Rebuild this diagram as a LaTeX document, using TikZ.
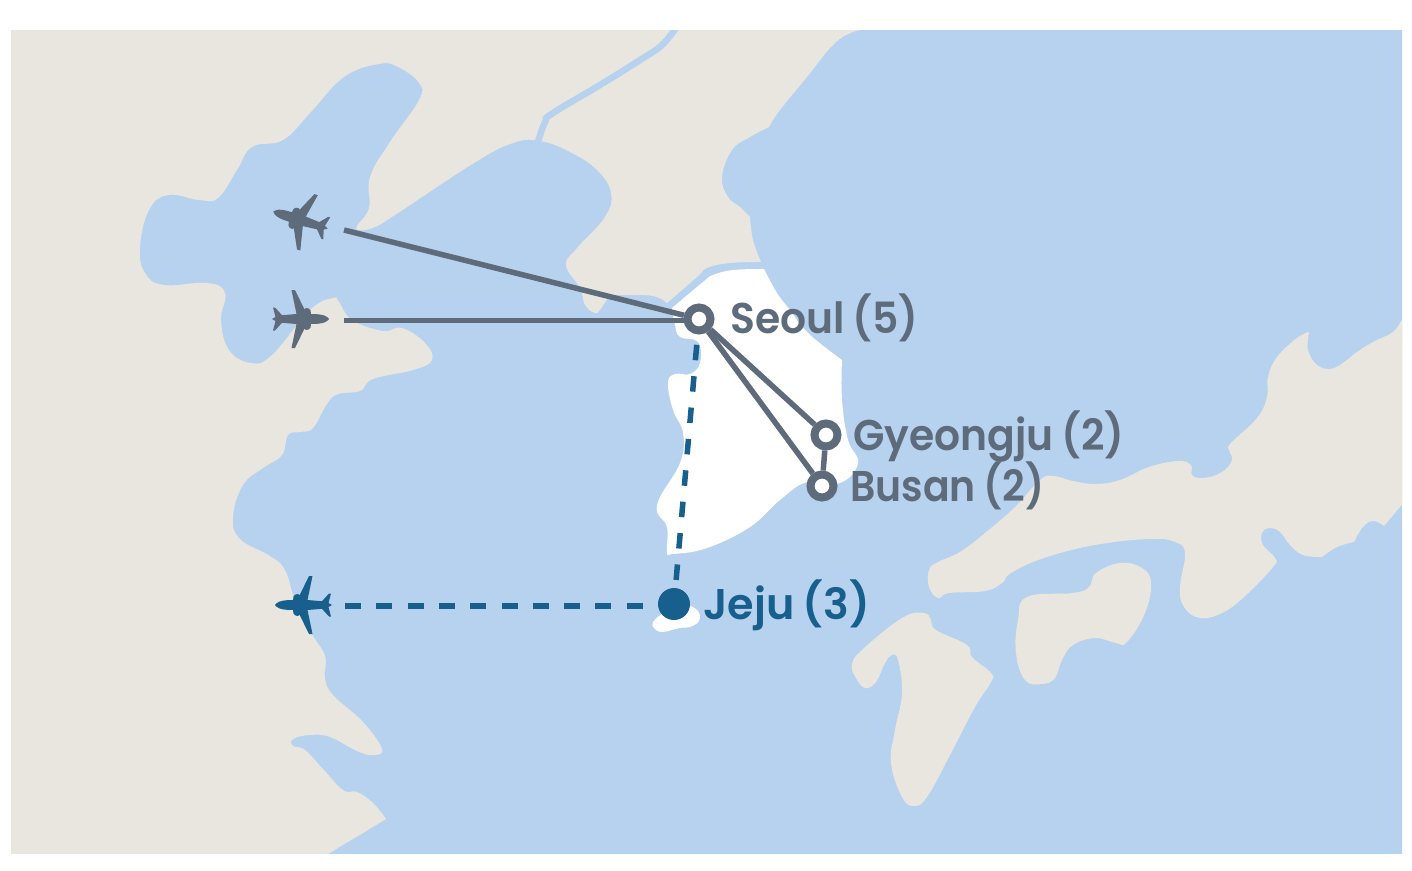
\documentclass[tikz,border=0pt]{standalone}
\usepackage{fontspec}
\setmainfont{Poppins SemiBold}[FakeStretch=0.95,WordSpace=0.8]
\definecolor{sea}{HTML}{B7D2EF}
\definecolor{land}{HTML}{E8E6DF}
\definecolor{slate}{HTML}{5D6B7B}
\definecolor{deepblue}{HTML}{175F8C}
\tikzset{
  x=1pt,y=-1pt,
  landfill/.style={fill=land,draw=none},
  soft/.style={smooth,tension=0.7},
  stop/.style={circle,draw=slate,line width=8pt,fill=white,minimum size=23pt,inner sep=0pt},
  jejustop/.style={circle,fill=deepblue,minimum size=32pt,inner sep=0pt},
  route/.style={draw=slate,line width=5.5pt},
  dashroute/.style={draw=deepblue,line width=5.5pt,dash pattern=on 16pt off 15.3pt},
  cityname/.style={anchor=base west,inner sep=0pt,font=\fontsize{43}{43}\selectfont,text=slate},
  planepic/.pic={
    \fill[pic actions] (28,0) .. controls (26,-3) and (22,-4.5) .. (16,-4.8) -- (10,-5)
      -- (9.5,-8.5) .. controls (8,-11.5) and (3.5,-11.5) .. (3.5,-9.5) -- (4,-8.5)
      -- (-6,-29) -- (-9.5,-29) -- (-4.5,-5) -- (-19,-3.8)
      -- (-26,-11.5) -- (-28,-11.5) -- (-25.5,-2) -- (-29,0)
      -- (-25.5,2) -- (-28,11.5) -- (-26,11.5) -- (-19,3.8) -- (-4.5,5)
      -- (-9.5,29) -- (-6,29) -- (4,8.5) -- (3.5,9.5) .. controls (3.5,11.5) and (8,11.5) .. (9.5,8.5)
      -- (10,5) -- (16,4.8) .. controls (22,4.5) and (26,3) .. (28,0) -- cycle;
  }
}
\begin{document}
\begin{tikzpicture}
\useasboundingbox (0,0) rectangle (1412,870);
\begin{scope}
\clip (11,30) rectangle (1402,853);
\fill[sea] (0,0) rectangle (1412,870);
% mainland
\path[landfill] (-10,20) -- (890,20) -- plot[soft] coordinates {(890,26)(873,29)(853,32)(833,45)(807,77)(780,110)(769,127)}
 -- plot[soft] coordinates {(769,127)(750,137)(732,150)(722,177)(728,197)(740,207)(750,217)}
 -- plot[soft] coordinates {(750,217)(753,240)(761,262)}
 -- plot[soft] coordinates {(761,262)(730,263)(707,268)(697,277)(667,303)}
 -- plot[soft] coordinates {(667,303)(653,296)(625,295)(610,297)(600,310)(595,313)(585,305)(580,288)(566,265)(578,247)(605,217)(611,193)(597,170)(570,152)(540,141)(513,143)(474,163)(398,213)(375,227)(360,230)(357,226)(369,208)(370,177)(390,142)(419,100)(419,83)(398,67)(379,64)(344,77)(310,113)(283,140)(252,147)(237,170)(218,198)(199,200)(168,195)(149,210)(140,247)(145,273)(164,285)(207,283)(225,293)(221,320)(229,350)(251,363)(272,355)(310,310)(333,298)(339,302)(352,320)(383,331)(402,328)(425,343)(432,360)(413,370)(373,379)(360,391)(338,394)(327,404)(313,428)(300,432)(288,435)(282,455)(263,468)(243,485)(233,517)(240,539)(270,556)(285,570)(295,600)(312,634)(325,656)(325,678)(333,695)(363,722)(382,749)(373,755)(357,751)(330,737)(310,735)(293,739)(293,746)(305,750)(323,769)(343,790)(357,792)(373,803)(386,819)}
 -- plot[soft] coordinates {(386,819)(363,833)(330,853)(320,862)}
 -- (-10,870) -- cycle;
% river
\draw[sea,line width=6.5pt] plot[soft] coordinates {(537,145)(545,122)(553,113)(600,85)(640,60)(662,45)(678,25)};
% Japan
\path[landfill] (1420,310) -- plot[soft] coordinates {(1412,310)(1402,320)(1393,332)(1373,342)(1357,352)(1340,365)(1327,369)(1315,363)(1308,350)(1308,340)(1309,332)}
 -- plot[soft] coordinates {(1309,332)(1297,338)(1277,357)(1268,377)(1267,397)(1257,418)(1231,443)(1229,450)(1232,460)(1222,472)(1204,478)(1192,475)(1191,465)(1178,461)(1149,467)(1120,480)(1095,484)(1073,481)(1053,476)(1040,480)(1015,507)(985,533)(960,552)(938,562)(929,570)(929,587)(938,598)(949,593)(985,591)(1002,583)(1011,573)(1044,558)(1095,545)(1149,539)(1175,542)(1185,553)(1180,587)(1184,607)(1200,618)(1222,613)(1244,597)(1273,567)(1275,558)(1263,545)(1262,533)(1270,528)(1280,532)(1290,545)(1303,555)(1322,557)}
 -- plot[soft] coordinates {(1322,557)(1337,547)(1354,542)}
 -- plot[soft] coordinates {(1354,542)(1363,527)(1373,521)(1384,526)}
 -- (1410,495) -- (1420,495) -- cycle;
% Shikoku
\path[landfill] plot[smooth cycle,tension=0.7] coordinates {(1027,597)(1073,593)(1089,587)(1096,573)(1120,563)(1142,568)(1151,583)(1145,613)(1127,642)(1116,643)(1095,638)(1073,645)(1062,660)(1055,678)(1042,684)(1025,680)(1016,653)(1018,620)};
% Kyushu
\path[landfill] plot[smooth cycle,tension=0.7] coordinates {(924,613)(931,620)(936,630)(967,645)(972,657)(991,673)(991,682)(975,707)(949,757)(927,797)(914,806)(902,797)(891,763)(895,730)(902,693)(898,660)(892,655)(885,663)(876,682)(865,688)(856,678)(852,665)(862,650)(902,618)};
% Korea
\fill[white] (842,360) -- plot[soft] coordinates {(842,360)(842,400)(848,440)(858,463)(840,483)(807,482)(780,500)(750,527)(707,548)(673,554)(667,552)(667,527)(657,505)(680,463)(683,433)(673,410)(668,383)(675,374)(690,374)(700,363)(698,342)(680,337)(675,325)(672,308)}
 -- plot[soft] coordinates {(672,308)(703,282)(713,275)(733,270)(764,269)}
 -- plot[soft] coordinates {(764,269)(777,293)(790,310)(808,333)(842,360)} -- cycle;
% Jeju island
\fill[white] plot[smooth cycle,tension=0.6] coordinates {(665,612)(653,622)(654,628)(662,632)(680,628)(690,627)(699,621)(698,611)(685,605)};
\end{scope}
% planes
\pic[slate,rotate=162.5] at (300,220) {planepic};
\pic[slate] at (301,319) {planepic};
\pic[deepblue,rotate=180] at (303,605) {planepic};
% stops
\node[stop] (seoul) at (699,319) {};
\node[stop] (gyeongju) at (826,435) {};
\node[stop] (busan) at (822,486) {};
\node[jejustop] (jeju) at (674,604) {};
\coordinate (p1) at (344,230);
\coordinate (p2) at (344,320.5);
\coordinate (p3) at (345,606);
\draw[route] (p1) -- (seoul);
\draw[route] (p2) -- (p2 -| seoul.west);
\draw[route] (seoul) -- (gyeongju);
\draw[route] (seoul) -- (busan);
\draw[route] (gyeongju) -- (busan);
\draw[dashroute] (p3) -- (p3 -| jeju.west);
\draw[dashroute,dash pattern=on 15.5pt off 16pt,shorten <=8pt,shorten >=10pt] (jeju) -- (seoul);
% labels
\node[cityname] (lseoul) at (730,333) {Seoul (5)};
\node[cityname] (lgyeongju) at (853,450) {Gyeongju (2)};
\node[cityname] (lbusan) at (850,501) {\scalebox{0.965}[1]{Busan (2)}};
\node[cityname,text=deepblue] (ljeju) at (703,619) {\scalebox{1.05}[1]{Jeju (3)}};
\end{tikzpicture}
\end{document}
